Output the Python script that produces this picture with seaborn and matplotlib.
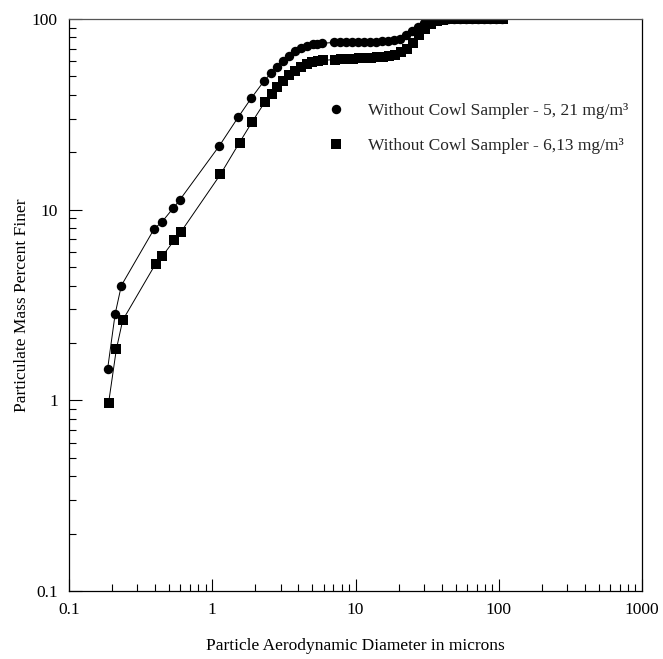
import numpy as np
import pandas as pd
import matplotlib
matplotlib.use("Agg")
import matplotlib.pyplot as plt
from matplotlib.lines import Line2D
from matplotlib.ticker import LogLocator, NullFormatter
import seaborn as sns

# Cumulative mass distribution, aerodynamic diameter (microns) vs percent finer
diam_a = [0.186, 0.210, 0.232, 0.394, 0.444, 0.535, 0.596, 1.12, 1.52, 1.87,
          2.30, 2.56, 2.82, 3.10, 3.45, 3.80, 4.18, 4.61, 5.03, 5.38,
          5.84, 7.08, 7.80, 8.59, 9.46, 10.4, 11.5, 12.6, 13.9, 15.3,
          16.9, 18.6, 20.5, 22.5, 24.8, 27.3, 30.1, 33.1, 36.5, 40.2,
          44.2, 48.7, 53.6, 59.0, 65.0, 71.6, 78.8, 86.8, 95.5, 105.0]
finer_a = [1.46, 2.84, 4.00, 7.95, 8.60, 10.2, 11.3, 21.6, 30.6, 38.4,
           47.3, 51.9, 56.2, 60.4, 64.2, 67.7, 70.5, 72.4, 73.7, 74.2,
           74.6, 75.3, 75.4, 75.5, 75.6, 75.7, 75.8, 76.0, 76.2, 76.5,
           77.0, 77.8, 79.0, 82.0, 86.0, 91.0, 95.0, 98.0, 99.2, 99.7,
           100, 100, 100, 100, 100, 100, 100, 100, 100, 100]

diam_b = [0.189, 0.214, 0.237, 0.403, 0.448, 0.543, 0.602, 1.14, 1.55, 1.89,
          2.33, 2.60, 2.85, 3.13, 3.45, 3.78, 4.14, 4.56, 4.99, 5.47,
          5.96, 7.20, 7.93, 8.73, 9.61, 10.6, 11.6, 12.8, 14.1, 15.5,
          17.1, 18.8, 20.7, 22.8, 25.1, 27.7, 30.5, 33.5, 36.9, 40.7,
          44.8, 49.3, 54.3, 59.8, 65.9, 72.5, 79.9, 88.0, 96.9, 106.7]
finer_b = [0.97, 1.85, 2.63, 5.21, 5.70, 6.91, 7.61, 15.3, 22.5, 28.7,
           36.7, 40.3, 44.0, 47.3, 50.7, 53.4, 55.8, 57.9, 59.3, 60.2,
           60.7, 61.3, 61.5, 61.7, 61.9, 62.1, 62.3, 62.6, 63.0, 63.4,
           64.0, 65.0, 67.0, 70.0, 75.0, 82.0, 89.0, 94.0, 97.5, 99.0,
           99.6, 100, 100, 100, 100, 100, 100, 100, 100, 100]

labels = ["Without Cowl Sampler - 5, 21 mg/m\u00b3",
          "Without Cowl Sampler - 6,13 mg/m\u00b3"]

x_ticks = [0.1, 1, 10, 100, 1000]
x_ticklabels = ["0.1", "1", "10", "100", "1000"]
y_ticks = [0.1, 1, 10, 100]
y_ticklabels = ["0.1", "1", "10", "100"]

sns.set_theme(style="white")
plt.rcParams["font.family"] = ["Liberation Serif", "DejaVu Serif"]

df_a = pd.DataFrame({"diameter": diam_a, "finer": finer_a})
df_b = pd.DataFrame({"diameter": diam_b, "finer": finer_b})

fig = plt.figure(figsize=(6.63, 6.59), dpi=100)
ax = fig.add_axes([69 / 663, 1 - 591 / 659, 573 / 663, 572 / 659])

sns.lineplot(data=df_a, x="diameter", y="finer", ax=ax, color="black",
             marker="o", markersize=6.8, markeredgewidth=0, linewidth=0.7,
             estimator=None, sort=False)
sns.lineplot(data=df_b, x="diameter", y="finer", ax=ax, color="black",
             marker="s", markersize=7.2, markeredgewidth=0, linewidth=0.7,
             estimator=None, sort=False)

ax.set_xscale("log")
ax.set_yscale("log")
ax.set_xlim(0.1, 1000)
ax.set_ylim(0.1, 100)

ax.set_xticks(x_ticks, labels=x_ticklabels)
ax.set_yticks(y_ticks, labels=y_ticklabels)
ax.xaxis.set_minor_locator(LogLocator(base=10, subs=np.arange(2, 10)))
ax.yaxis.set_minor_locator(LogLocator(base=10, subs=np.arange(2, 10)))
ax.xaxis.set_minor_formatter(NullFormatter())
ax.yaxis.set_minor_formatter(NullFormatter())

ax.tick_params(which="major", direction="in", length=9, width=0.8,
               color="black", labelsize=12.5, pad=8, labelcolor="black",
               bottom=True, left=True, top=False, right=False)
ax.tick_params(which="minor", direction="in", length=5, width=0.8,
               color="black", bottom=True, left=True, top=False, right=False)

for side in ["left", "bottom", "right"]:
    ax.spines[side].set_color("black")
    ax.spines[side].set_linewidth(0.9)
ax.spines["top"].set_color("#555555")
ax.spines["top"].set_linewidth(0.9)

ax.set_xlabel("Particle Aerodynamic Diameter in microns", fontsize=12.5,
              color="black", labelpad=14)
ax.set_ylabel("Particulate Mass Percent Finer", fontsize=12.5,
              color="black", labelpad=1)

handles = [Line2D([], [], linestyle="none", marker="o", markersize=6.8,
                  markeredgewidth=0, color="black"),
           Line2D([], [], linestyle="none", marker="s", markersize=7.2,
                  markeredgewidth=0, color="black")]
ax.legend(handles, labels, loc="upper left", bbox_to_anchor=(0.451, 0.853),
          frameon=False, borderpad=0, borderaxespad=0, handlelength=1.0,
          handletextpad=1.34, labelspacing=1.1, fontsize=12.5)

fig.savefig("out.png", dpi=100, facecolor="white")
